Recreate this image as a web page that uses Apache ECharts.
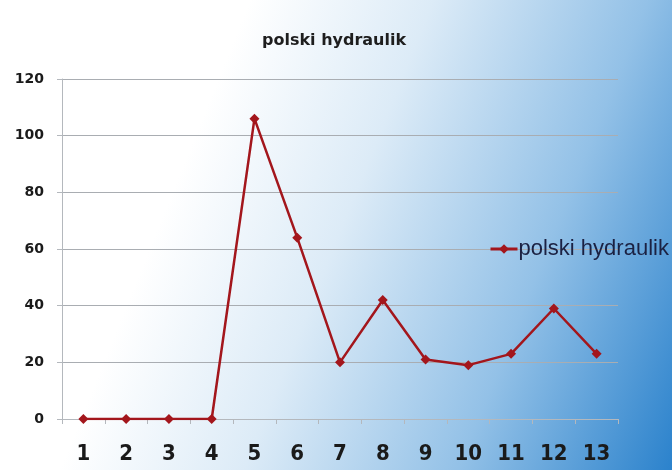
<!DOCTYPE html>
<html>
<head>
<meta charset="utf-8">
<script src="https://cdn.jsdelivr.net/npm/echarts@6/dist/echarts.min.js"></script>
<style>
  html, body { margin: 0; padding: 0; }
  #main { width: 672px; height: 470px; }
</style>
</head>
<body>
<div id="main"></div>
<script>
// chart data
var categories = ['1', '2', '3', '4', '5', '6', '7', '8', '9', '10', '11', '12', '13'];
var seriesName = 'polski hydraulik';
var values = [0, 0, 0, 0, 106, 64, 20, 42, 21, 19, 23, 39, 23];
var yTicks = [0, 20, 40, 60, 80, 100, 120];

var chart = echarts.init(document.getElementById('main'));

var option = {
    // white top-left fading to blue bottom-right
    backgroundColor: new echarts.graphic.LinearGradient(146, 257, 672, 470, [
        { offset: 0, color: '#ffffff' },
        { offset: 0.3, color: '#dcebf7' },
        { offset: 0.65, color: '#93c1e7' },
        { offset: 1, color: '#2b82cc' }
    ], true),
    title: {
        text: seriesName,
        left: 257,
        top: 28,
        textStyle: {
            fontFamily: 'DejaVu Sans',
            fontWeight: 'bold',
            fontSize: 16,
            color: '#1e1e1e'
        }
    },
    legend: {
        data: [seriesName],
        left: 484,
        top: 233,
        itemWidth: 27,
        itemHeight: 12,
        itemGap: 2,
        lineStyle: { width: 3 },
        textStyle: {
            fontFamily: 'Liberation Sans',
            fontSize: 22,
            color: '#1b2142',
            padding: [0, 0, 0, -4]
        }
    },
    grid: {
        left: 62,
        right: 54,
        top: 79,
        bottom: 51,
        outerBoundsMode: 'none'
    },
    xAxis: {
        type: 'category',
        data: categories,
        boundaryGap: true,
        axisLine: { lineStyle: { color: '#b4b8bd', width: 1 } },
        axisTick: { show: true, length: 5, lineStyle: { color: '#b4b8bd' } },
        axisLabel: {
            margin: 24,
            fontFamily: 'DejaVu Sans Condensed',
            fontWeight: 'bold',
            fontSize: 22,
            color: '#1a1a1a'
        },
        splitLine: { show: false }
    },
    yAxis: {
        type: 'value',
        min: yTicks[0],
        max: yTicks[yTicks.length - 1],
        interval: 20,
        axisLine: { show: true, lineStyle: { color: '#b4b8bd', width: 1 } },
        axisTick: { show: true, length: 5, lineStyle: { color: '#b4b8bd' } },
        axisLabel: {
            margin: 18,
            fontFamily: 'DejaVu Sans',
            fontWeight: 'bold',
            fontSize: 14,
            color: '#1a1a1a'
        },
        splitLine: { show: true, lineStyle: { color: '#a9adb2', width: 1 } }
    },
    series: [{
        name: seriesName,
        type: 'line',
        data: values,
        symbol: 'diamond',
        symbolSize: 10,
        itemStyle: { color: '#a3161c' },
        lineStyle: { color: '#a3161c', width: 2.5 },
        animation: false
    }],
    animation: false
};

chart.setOption(option);
</script>
</body>
</html>
